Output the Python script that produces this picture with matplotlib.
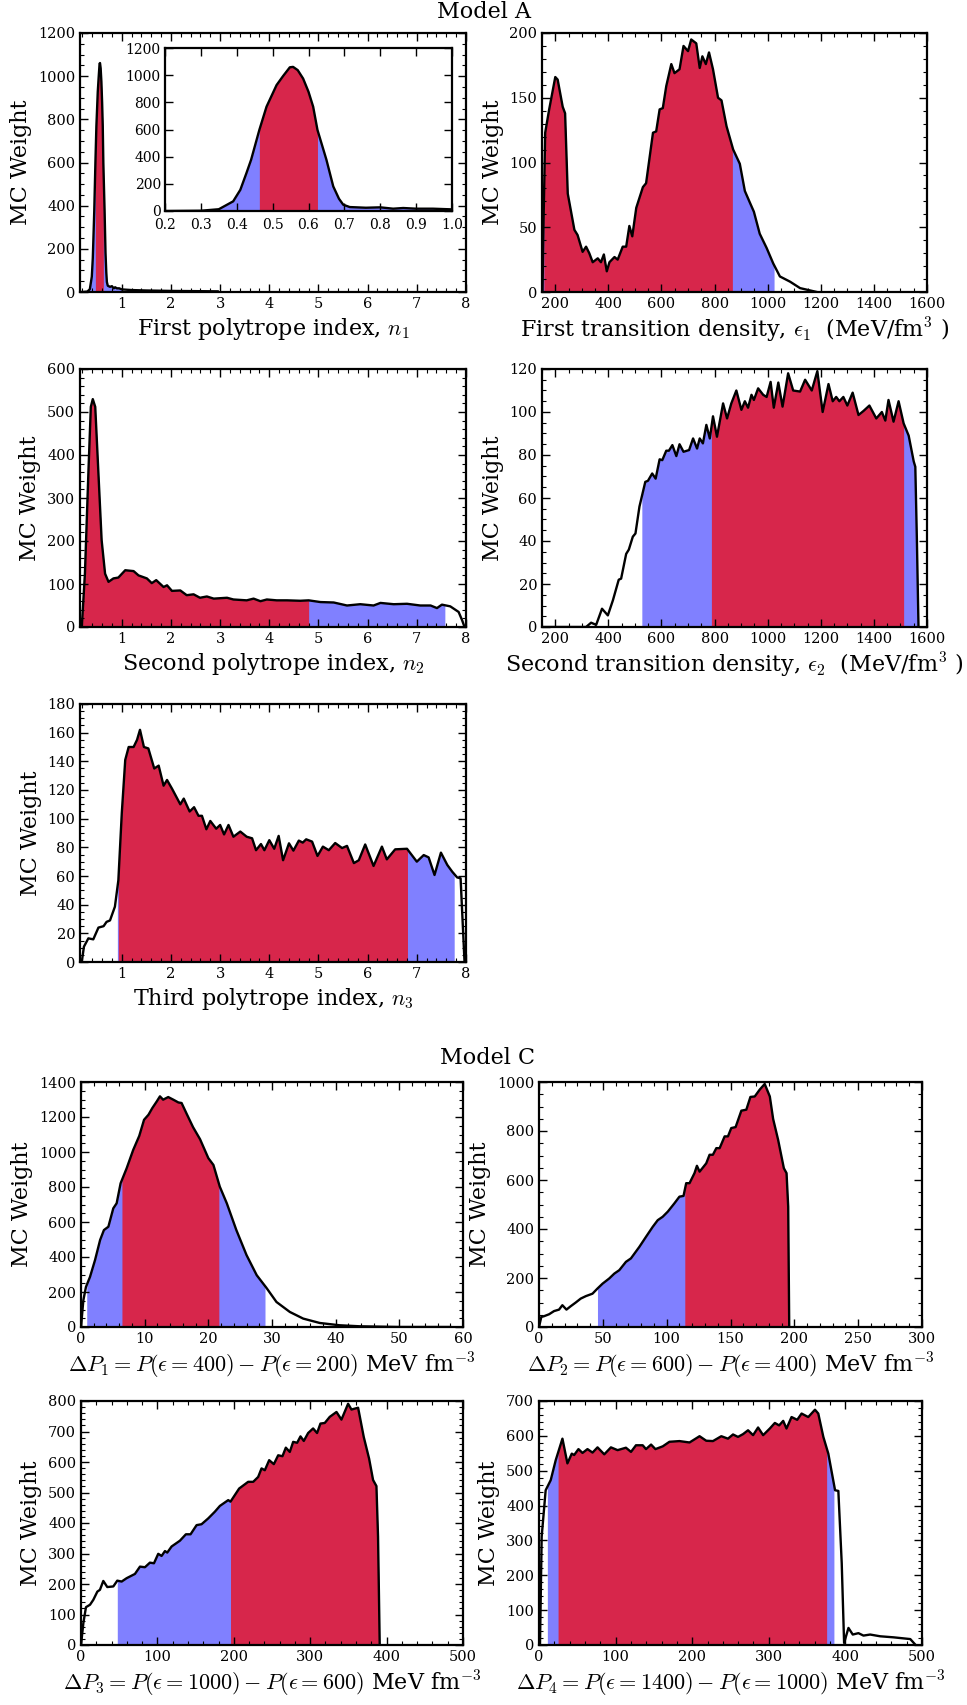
import numpy as np
import matplotlib
matplotlib.use("Agg")
import matplotlib.pyplot as plt
from matplotlib.ticker import AutoMinorLocator, MultipleLocator

# ---------------- data ----------------
# Model A, first polytrope index n1
n1_x = [0.15, 0.2, 0.30, 0.35, 0.39, 0.41, 0.427, 0.44, 0.463, 0.483, 0.511, 0.529, 0.548, 0.557, 0.57,
        0.585, 0.60, 0.613, 0.625, 0.65, 0.669, 0.685, 0.697, 0.715, 0.76, 0.8, 0.836, 0.864, 0.9, 0.947,
        1.0, 1.2, 1.5, 2.0, 2.5, 2.95]
n1_y = [0, 0, 2, 13, 71, 156, 279, 377, 597, 768, 927, 993, 1058, 1061, 1037,
        975, 878, 768, 597, 377, 181, 90, 46, 29, 24, 27, 17, 22, 17, 17,
        12, 9, 7, 5, 4, 3]
n1_int68 = (0.463, 0.625)
n1_int95 = (0.33, 1.02)

# Model A, first transition density eps1
e1_x = [152, 155, 162, 177, 200, 209, 228, 237, 247, 272, 284, 303, 316, 328, 341, 360, 372, 383, 394, 404,
        423, 435, 454, 467, 479, 490, 505, 530, 542, 568, 580, 593, 605, 618, 637, 649, 668, 683, 700, 712,
        731, 744, 754, 767, 779, 794, 813, 826, 845, 870, 895, 914, 933, 948, 970, 996, 1021, 1046, 1084,
        1122, 1185]
e1_y = [0, 45, 123, 141, 166, 164, 143, 138, 76, 48, 44, 31, 35, 30, 23, 26, 23, 29, 16, 23,
        27, 25, 35, 35, 51, 43, 65, 81, 84, 123, 124, 141, 142, 159, 176, 169, 172, 190, 186, 195,
        192, 173, 182, 176, 185, 172, 150, 148, 128, 110, 99, 78, 69, 62, 45, 34, 22, 12, 8,
        3, 0]
e1_int68 = (157, 867)
e1_int95 = (152, 1024)

# Model A, second polytrope index n2
n2_x = [0.186, 0.25, 0.32, 0.37, 0.41, 0.46, 0.525, 0.59, 0.66, 0.73, 0.83, 0.93, 1.07, 1.24, 1.34, 1.51,
        1.61, 1.70, 1.85, 1.92, 2.02, 2.19, 2.32, 2.46, 2.59, 2.73, 2.87, 3.14, 3.27, 3.54, 3.68, 3.82,
        3.95, 4.15, 4.36, 4.63, 4.80, 5.04, 5.31, 5.58, 5.85, 6.12, 6.26, 6.53, 6.80, 7.07, 7.28, 7.41,
        7.51, 7.68, 7.85, 7.92, 7.97]
n2_y = [0, 124, 357, 512, 530, 512, 357, 202, 124, 105, 113, 115, 132, 130, 120, 113,
        102, 109, 93, 97, 84, 85, 74, 76, 68, 71, 66, 68, 64, 62, 66, 60,
        64, 62, 62, 61, 62, 58, 57, 50, 53, 50, 56, 53, 54, 50, 50, 44,
        52, 48, 35, 16, 0]
n2_int68 = (0.19, 4.80)
n2_int95 = (0.186, 7.57)

# Model A, second transition density eps2
e2_x = [150, 316, 335, 354, 376, 398, 417, 439, 448, 467, 477, 492, 502, 517, 539, 549, 565, 578, 593, 603,
        618, 628, 641, 656, 668, 683, 704, 719, 734, 744, 756, 769, 782, 794, 809, 832, 847, 863, 882, 901,
        914, 926, 939, 948, 964, 983, 996, 1011, 1023, 1040, 1056, 1077, 1096, 1122, 1141, 1166, 1187, 1207,
        1229, 1245, 1258, 1270, 1285, 1300, 1320, 1342, 1361, 1383, 1409, 1430, 1443, 1455, 1474, 1493, 1512,
        1531, 1550, 1556, 1562, 1568]
e2_y = [0, 0, 2, 1, 8.5, 5.4, 12.4, 22, 22.5, 34, 36, 42, 43.5, 56, 67.5, 68, 71.4, 69, 78, 77.6,
        82, 82, 84.6, 79.5, 85, 81.5, 82.3, 87.7, 83, 87.7, 85.4, 94, 87.7, 98, 88.5, 104, 97, 104, 110, 101,
        105, 102, 108, 105.6, 111, 108, 107, 114, 102, 113.7, 102.5, 118, 110, 109.5, 115, 110, 119, 100,
        113, 105, 107, 105, 107, 103, 109, 98.6, 100.5, 103, 97, 100, 96, 105.6, 95.5, 105, 94.7,
        89, 77, 74.5, 40, 0]
e2_int68 = (788, 1512)
e2_int95 = (526, 1565)

# Model A, third polytrope index n3
n3_x = [0.186, 0.23, 0.32, 0.42, 0.525, 0.63, 0.69, 0.76, 0.86, 0.93, 1.0, 1.07, 1.14, 1.24, 1.31, 1.37,
        1.45, 1.54, 1.66, 1.75, 1.85, 1.92, 2.02, 2.19, 2.26, 2.38, 2.47, 2.56, 2.63, 2.72, 2.80, 2.92,
        3.00, 3.08, 3.17, 3.27, 3.41, 3.54, 3.65, 3.73, 3.83, 3.90, 4.0, 4.1, 4.19, 4.28, 4.40, 4.49,
        4.60, 4.68, 4.75, 4.87, 4.98, 5.09, 5.21, 5.34, 5.48, 5.58, 5.72, 5.82, 5.95, 6.12, 6.29, 6.39,
        6.56, 6.80, 7.0, 7.14, 7.24, 7.36, 7.49, 7.62, 7.72, 7.82, 7.89, 7.94, 7.97]
n3_y = [0, 10.7, 16.5, 15.8, 24, 25, 28, 29, 38.6, 57, 104, 141, 150, 150, 155, 162,
        150, 149, 135, 137, 123, 127, 121, 110, 114, 105, 108, 102, 102, 92.6, 98.4, 93,
        95.6, 89, 95.6, 87.4, 91, 87.4, 86.3, 78, 82.3, 78, 85, 79, 88, 71, 82.8, 77.7,
        84.7, 83.3, 85.6, 84, 74, 80.5, 78, 83, 79.5, 81, 69, 71, 82, 67, 80.5, 71.6,
        78.6, 79, 70, 74.6, 73, 60.7, 76.3, 67.7, 63, 59, 58.4, 22, 0]
n3_int68 = (0.93, 6.81)
n3_int95 = (0.91, 7.76)

# Model C, Delta P1
p1_x = [0, 0.37, 0.78, 1.41, 2.2, 3.0, 3.6, 4.3, 5.07, 5.6, 6.22, 7.17, 8.2, 9.15, 9.9, 10.6, 11.2, 11.9,
        12.4, 12.9, 13.7, 14.5, 15.3, 15.8, 16.6, 17.6, 18.7, 20.0, 20.8, 21.8, 22.9, 24.4, 26.0, 27.6,
        29.1, 30.7, 32.8, 34.9, 37.5, 40.6, 43.8, 50, 58]
p1_y = [0, 153, 229, 286, 382, 497, 554, 573, 678, 707, 821, 907, 1012, 1092, 1184, 1213, 1251, 1289,
        1318, 1299, 1314, 1299, 1283, 1280, 1218, 1142, 1073, 965, 926, 802, 707, 554, 411, 296,
        225, 143, 86, 48, 23, 10, 4, 0, 0]
p1_int68 = (6.43, 21.65)
p1_int95 = (0.9, 28.9)

# Model C, Delta P2
p2_x = [0, 1.8, 3.9, 7.9, 11.8, 15.7, 18.3, 21.5, 24.9, 28.8, 32.7, 36.7, 41.9, 45.8, 49.8, 55, 59, 62.9,
        68.1, 72, 78.6, 83.8, 89.1, 93, 96.9, 100.9, 106.1, 110, 113.2, 115.3, 117.9, 121.8, 123.7, 125.8,
        131, 133.6, 136.2, 138.9, 141.5, 145.4, 148, 150.6, 154, 158.5, 162.4, 165.6, 169, 172.9, 176.8,
        180.8, 183.4, 187.3, 191.8, 193.9, 195.2, 196]
p2_y = [0, 41, 44, 52, 65, 71, 89, 71, 85, 100, 116, 126, 136, 157, 177, 198, 218, 232,
        266, 280, 327, 368, 409, 436, 450, 471, 505, 532, 535, 587, 587, 628, 658, 634,
        668, 703, 703, 730, 730, 778, 778, 812, 816, 883, 887, 939, 941, 969, 992,
        941, 849, 764, 648, 628, 491, 0]
p2_int68 = (114.2, 195.2)
p2_int95 = (45.8, 196.0)

# Model C, Delta P3
p3_x = [0, 3.1, 6.5, 11.8, 16.1, 21.4, 24.8, 29.2, 34.4, 42.3, 47.5, 53.2, 59.7, 70.6, 77.2, 83.7, 90.2,
        95.5, 101.1, 105.5, 109.9, 112.9, 118.6, 129.5, 137.3, 143.4, 151.3, 157.8, 166.5, 175.2, 181.8,
        192.7, 195.7, 207, 218.8, 225.4, 231.9, 236.3, 240.6, 246.3, 252.4, 258.1, 263.7, 268.1, 273.3,
        277.7, 282.9, 287.3, 291.6, 297.3, 303.8, 309, 313.4, 319.1, 325.6, 334.4, 340.9, 349.6, 354,
        362.7, 370.1, 377.1, 382.3, 386.7, 388.8, 391]
p3_y = [0, 72, 124, 132, 148, 175, 181, 210, 190, 192, 211, 208, 219, 233, 257, 255, 270,
        268, 299, 292, 308, 303, 323, 342, 363, 363, 393, 396, 415, 437, 456,
        475, 470, 513, 535, 535, 551, 579, 573, 606, 593, 622, 619, 647, 633,
        666, 663, 684, 669, 695, 710, 695, 726, 728, 748, 764, 739, 791, 772,
        778, 682, 611, 541, 521, 355, 0]
p3_int68 = (195.7, 390.0)
p3_int95 = (47.5, 391.0)

# Model C, Delta P4
p4_x = [1.3, 3.5, 8.7, 15.3, 21.8, 30.6, 37.1, 42.8, 45.9, 51.5, 56.8, 63.3, 69.9, 76.4, 85.2, 93.9, 102.6,
        113.5, 120.1, 126.6, 135.4, 139.7, 146.3, 152, 161.6, 170.3, 183.4, 196.5, 209.6, 218.3, 227.1,
        238, 246.7, 253.3, 259.8, 266.4, 272.9, 279.5, 286, 292.6, 301.3, 307.9, 313.5, 318.8, 323.1,
        329.7, 337.1, 342.8, 351.5, 360.3, 364.6, 371.2, 377.7, 386.5, 390.8, 395.2, 398.3, 404, 409.6,
        417, 423.6, 432.3, 445.4, 462.9, 484.7, 491.3]
p4_y = [0, 311, 444, 473, 530, 592, 521, 549, 545, 562, 551, 562, 552, 567, 547, 567, 559,
        566, 554, 573, 573, 562, 575, 562, 570, 583, 585, 581, 599, 586, 585,
        599, 592, 604, 597, 605, 616, 602, 624, 602, 621, 637, 630, 643, 621,
        654, 646, 664, 654, 675, 664, 597, 549, 444, 442, 235, 6, 49, 30,
        34, 27, 30, 25, 22, 17, 1]
p4_int68 = (24.9, 375.5)
p4_int95 = (10.9, 385.0)

# ---------------- style ----------------
RED = "#D7264B"
BLUE = "#8080FF"
W, H = 967, 1705

plt.rcParams.update({
    "font.family": ["DejaVu Serif"],
    "mathtext.fontset": "cm",
    "xtick.direction": "in",
    "ytick.direction": "in",
    "xtick.top": True,
    "ytick.right": True,
    "xtick.major.size": 6,
    "ytick.major.size": 6,
    "xtick.minor.size": 3,
    "ytick.minor.size": 3,
    "xtick.major.width": 1.0,
    "ytick.major.width": 1.0,
    "xtick.minor.width": 0.8,
    "ytick.minor.width": 0.8,
    "xtick.labelsize": 10.5,
    "ytick.labelsize": 10.5,
    "axes.linewidth": 1.6,
    "axes.labelsize": 16,
})

fig = plt.figure(figsize=(W / 100, H / 100), dpi=100)


def make_ax(l, r, t, b):
    return fig.add_axes([l / W, 1 - b / H, (r - l) / W, (b - t) / H])


def region(ax, x, y, lo, hi, color):
    x = np.asarray(x, float)
    y = np.asarray(y, float)
    inner = x[(x > lo) & (x < hi)]
    xs = np.concatenate([[lo], inner, [hi]])
    ys = np.interp(xs, x, y)
    ax.fill_between(xs, 0, ys, color=color, lw=0)


def panel(ax, x, y, i68, i95, xlim, ylim, xmaj, ymaj, xlabel, minor=True):
    region(ax, x, y, i95[0], i95[1], BLUE)
    region(ax, x, y, i68[0], i68[1], RED)
    ax.plot(x, y, color="k", lw=1.7)
    ax.set_xlim(*xlim)
    ax.set_ylim(*ylim)
    ax.xaxis.set_major_locator(MultipleLocator(xmaj))
    ax.yaxis.set_major_locator(MultipleLocator(ymaj))
    if minor:
        ax.xaxis.set_minor_locator(AutoMinorLocator())
        ax.yaxis.set_minor_locator(AutoMinorLocator())
    ax.tick_params(which="both", top=True, right=True)
    if xlabel is not None:
        ax.set_xlabel(xlabel, fontsize=16)
    return ax


# Model A
fig.text(484 / W, 1 - 12 / H, "Model A", ha="center", va="center", fontsize=16)

ax1 = make_ax(80, 466, 33, 292)
panel(ax1, n1_x, n1_y, n1_int68, n1_int95, (0.15, 8), (0, 1200), 1, 200,
      r"First polytrope index, $n_1$")
ax1.set_ylabel("MC Weight", fontsize=16)

axin = make_ax(165, 452, 48, 211)
panel(axin, n1_x, n1_y, n1_int68, n1_int95, (0.2, 1.0), (0, 1200), 0.1, 200, None, minor=False)
axin.set_xticks(np.arange(0.2, 1.01, 0.1))
axin.set_xticklabels([f"{v:.1f}" for v in np.arange(0.2, 1.01, 0.1)])
axin.tick_params(axis="x", labelsize=10, pad=5)
axin.tick_params(axis="y", labelsize=10, pad=3)

ax2 = make_ax(542, 927, 33, 292)
panel(ax2, e1_x, e1_y, e1_int68, e1_int95, (150, 1600), (0, 200), 200, 50,
      r"First transition density, $\epsilon_1$  (MeV/fm$^3$ )")
ax2.set_ylabel("MC Weight", fontsize=16)

ax3 = make_ax(80, 466, 369, 627)
panel(ax3, n2_x, n2_y, n2_int68, n2_int95, (0.15, 8), (0, 600), 1, 100,
      r"Second polytrope index, $n_2$")
ax3.set_ylabel("MC Weight", fontsize=16)

ax4 = make_ax(542, 927, 369, 627)
panel(ax4, e2_x, e2_y, e2_int68, e2_int95, (150, 1600), (0, 120), 200, 20,
      r"Second transition density, $\epsilon_2$  (MeV/fm$^3$ )")
ax4.set_ylabel("MC Weight", fontsize=16)

ax5 = make_ax(80, 466, 704, 962)
panel(ax5, n3_x, n3_y, n3_int68, n3_int95, (0.15, 8), (0, 180), 1, 20,
      r"Third polytrope index, $n_3$")
ax5.set_ylabel("MC Weight", fontsize=16)

# Model C
fig.text(488 / W, 1 - 1058 / H, "Model C", ha="center", va="center", fontsize=16)

ax6 = make_ax(81, 463, 1082, 1327)
panel(ax6, p1_x, p1_y, p1_int68, p1_int95, (0, 60), (0, 1400), 10, 200,
      r"$\Delta P_1 = P(\epsilon = 400) - P(\epsilon = 200)$ MeV fm$^{-3}$")
ax6.set_ylabel("MC Weight", fontsize=16)

ax7 = make_ax(539, 922, 1082, 1327)
panel(ax7, p2_x, p2_y, p2_int68, p2_int95, (0, 300), (0, 1000), 50, 200,
      r"$\Delta P_2 = P(\epsilon = 600) - P(\epsilon = 400)$ MeV fm$^{-3}$")
ax7.set_ylabel("MC Weight", fontsize=16)

ax8 = make_ax(81, 463, 1401, 1645)
panel(ax8, p3_x, p3_y, p3_int68, p3_int95, (0, 500), (0, 800), 100, 100,
      r"$\Delta P_3 = P(\epsilon = 1000) - P(\epsilon = 600)$ MeV fm$^{-3}$")
ax8.set_ylabel("MC Weight", fontsize=16)

ax9 = make_ax(539, 922, 1401, 1645)
panel(ax9, p4_x, p4_y, p4_int68, p4_int95, (0, 500), (0, 700), 100, 100,
      r"$\Delta P_4 = P(\epsilon = 1400) - P(\epsilon = 1000)$ MeV fm$^{-3}$")
ax9.set_ylabel("MC Weight", fontsize=16)

fig.savefig("out.png", dpi=100)
